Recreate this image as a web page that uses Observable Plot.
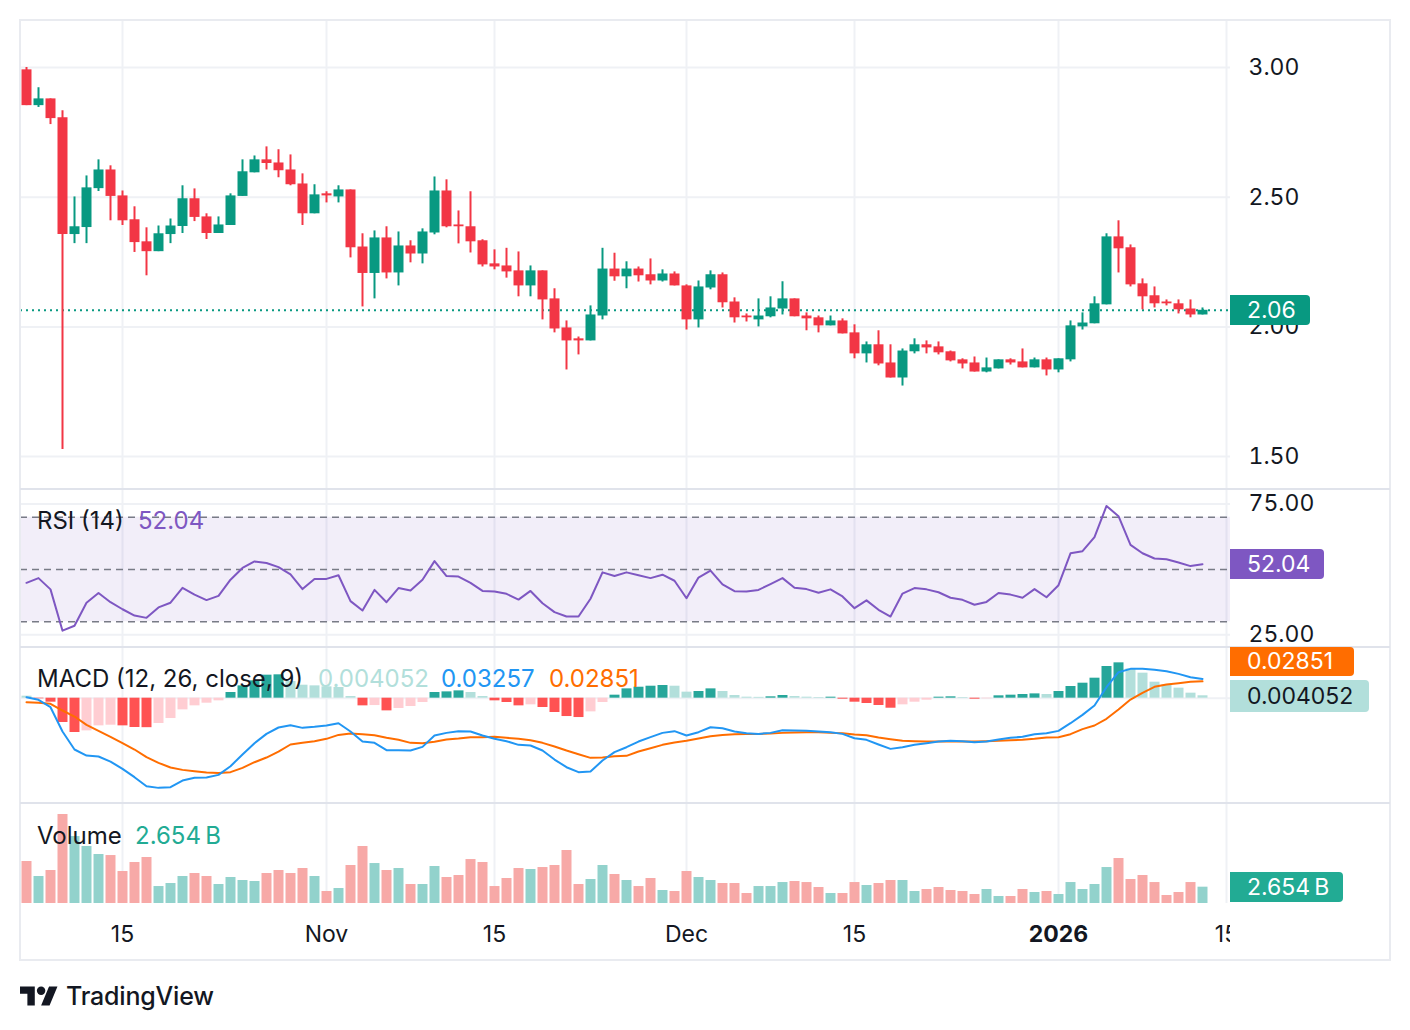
<!DOCTYPE html>
<html><head><meta charset="utf-8">
<script src="https://cdn.jsdelivr.net/npm/d3@7"></script>
<script src="https://cdn.jsdelivr.net/npm/@observablehq/plot@0.6"></script>
<style>
body{margin:0;background:#fff;font-family:Inter,"Noto Sans",sans-serif;color:#131722;}
#root{position:relative;width:1410px;height:1030px;overflow:hidden;background:#fff;}
#root svg{max-width:none !important;overflow:visible;}
.pane{position:absolute;left:0;}
.lbl{position:absolute;font-size:24px;line-height:1;white-space:nowrap;transform:translateY(-50%);}
.box{position:absolute;left:1230px;height:30px;border-radius:0 4px 4px 0;font-size:23px;line-height:30px;padding-left:17px;box-sizing:border-box;color:#fff;white-space:nowrap;}
.sep{position:absolute;left:20px;width:1370px;height:2px;background:#e0e3eb;}
</style></head><body><div id="root"></div>
<script>
const startDate = "2025-10-07";
const open  = [2.991,2.853,2.879,2.806,2.356,2.383,2.533,2.605,2.505,2.413,2.328,2.290,2.356,2.387,2.494,2.424,2.360,2.391,2.503,2.594,2.644,2.632,2.605,2.551,2.436,2.513,2.501,2.528,2.308,2.206,2.343,2.208,2.312,2.281,2.362,2.524,2.393,2.386,2.332,2.243,2.235,2.216,2.158,2.216,2.108,1.996,1.954,1.946,2.042,2.223,2.193,2.223,2.201,2.177,2.204,2.158,2.027,2.150,2.201,2.096,2.042,2.027,2.039,2.069,2.108,2.042,2.035,2.004,2.023,1.977,1.896,1.931,1.861,1.803,1.904,1.931,1.923,1.904,1.873,1.861,1.826,1.838,1.873,1.865,1.842,1.873,1.834,1.873,2.000,2.012,2.085,2.347,2.305,2.166,2.120,2.096,2.089,2.069,2.046];
const high  = [3.000,2.922,2.879,2.833,2.501,2.582,2.644,2.621,2.524,2.463,2.382,2.389,2.416,2.544,2.532,2.436,2.424,2.513,2.644,2.659,2.694,2.683,2.663,2.590,2.548,2.521,2.544,2.528,2.359,2.370,2.386,2.366,2.332,2.378,2.578,2.567,2.447,2.521,2.336,2.297,2.303,2.289,2.235,2.216,2.147,2.023,1.961,2.081,2.303,2.284,2.251,2.231,2.262,2.220,2.212,2.162,2.177,2.216,2.208,2.112,2.050,2.108,2.116,2.174,2.108,2.054,2.042,2.042,2.031,2.008,1.942,1.985,1.931,1.915,1.954,1.946,1.942,1.907,1.877,1.884,1.880,1.873,1.877,1.915,1.880,1.880,1.877,2.023,2.054,2.116,2.359,2.409,2.316,2.185,2.154,2.104,2.104,2.104,2.073];
const low   = [2.853,2.846,2.780,1.527,2.321,2.321,2.522,2.409,2.391,2.287,2.197,2.290,2.321,2.360,2.406,2.337,2.360,2.391,2.503,2.594,2.605,2.575,2.544,2.391,2.436,2.478,2.478,2.266,2.077,2.108,2.185,2.158,2.247,2.243,2.355,2.382,2.320,2.285,2.231,2.220,2.188,2.116,2.116,2.027,1.977,1.834,1.892,1.946,2.027,2.176,2.147,2.173,2.162,2.173,2.158,1.988,1.996,2.143,2.073,2.015,2.019,2.000,2.035,2.046,2.039,1.985,1.977,2.004,1.973,1.877,1.861,1.850,1.803,1.772,1.896,1.896,1.892,1.865,1.838,1.826,1.823,1.838,1.853,1.842,1.842,1.811,1.823,1.865,1.988,2.012,2.085,2.208,2.154,2.066,2.073,2.081,2.050,2.035,2.046];
const close = [2.853,2.879,2.803,2.356,2.386,2.536,2.605,2.503,2.409,2.325,2.290,2.359,2.389,2.494,2.422,2.360,2.393,2.505,2.598,2.644,2.630,2.602,2.548,2.436,2.509,2.505,2.528,2.305,2.206,2.343,2.208,2.312,2.281,2.366,2.524,2.386,2.386,2.328,2.239,2.231,2.212,2.158,2.216,2.104,1.992,1.946,1.946,2.046,2.223,2.193,2.223,2.197,2.177,2.204,2.158,2.027,2.154,2.201,2.093,2.035,2.035,2.042,2.073,2.108,2.039,2.031,2.004,2.023,1.973,1.896,1.931,1.857,1.803,1.907,1.931,1.919,1.900,1.869,1.857,1.826,1.842,1.873,1.861,1.842,1.873,1.834,1.877,2.004,2.015,2.089,2.347,2.301,2.162,2.116,2.089,2.089,2.066,2.046,2.064];
const volume = [6.83,4.39,5.37,14.47,10.89,9.27,7.97,7.80,5.20,6.67,7.48,2.76,3.25,4.39,4.88,4.39,3.09,4.23,3.74,3.58,4.88,5.37,4.88,5.69,4.39,1.95,2.44,6.18,9.27,6.50,5.37,5.69,3.09,3.09,6.02,4.23,4.55,7.15,6.67,2.76,4.07,5.69,5.53,5.85,6.18,8.62,3.09,3.90,6.18,4.72,3.74,2.76,4.07,2.11,1.95,5.20,4.23,3.74,3.25,3.25,1.63,2.76,2.76,3.41,3.58,3.41,2.60,1.63,1.63,3.41,2.93,3.25,3.74,3.74,1.95,2.28,2.60,2.11,1.95,1.46,2.28,1.14,1.14,2.28,1.79,1.95,1.46,3.41,2.28,3.09,5.85,7.32,3.90,4.55,3.41,1.30,1.79,3.41,2.654];
const rsi = [44.9,46.7,42.4,26.6,28.5,37.3,41.0,37.5,34.8,32.4,31.5,35.5,37.3,43.0,40.4,38.3,39.9,46.1,50.6,53.1,52.5,50.9,48.1,42.5,46.4,46.4,47.8,37.9,34.3,42.2,37.5,42.9,42.0,46.1,53.2,47.5,47.3,44.9,41.8,41.6,40.7,38.5,41.8,37.1,33.7,32.0,32.0,38.8,48.9,47.5,48.9,47.8,46.7,48.0,45.7,39.0,46.9,49.6,44.3,41.7,41.6,42.2,44.4,46.7,43.0,42.5,41.1,42.4,39.7,35.2,38.2,34.6,32.0,40.8,42.9,42.4,41.3,39.2,38.4,36.5,37.6,41.0,40.4,39.2,42.5,39.4,44.0,56.2,57.0,62.4,74.3,70.4,59.4,56.2,54.2,53.9,52.7,51.3,52.04];
const macd = [0.0017,-0.0028,-0.0153,-0.0565,-0.0870,-0.0972,-0.0989,-0.1074,-0.1198,-0.1339,-0.1492,-0.1520,-0.1509,-0.1396,-0.1350,-0.1345,-0.1300,-0.1153,-0.0955,-0.0763,-0.0605,-0.0497,-0.0458,-0.0503,-0.0486,-0.0463,-0.0424,-0.0565,-0.0735,-0.0757,-0.0881,-0.0881,-0.0887,-0.0825,-0.0633,-0.0588,-0.0559,-0.0565,-0.0633,-0.0689,-0.0729,-0.0791,-0.0802,-0.0887,-0.1040,-0.1170,-0.1254,-0.1243,-0.1057,-0.0915,-0.0831,-0.0735,-0.0661,-0.0588,-0.0559,-0.0633,-0.0576,-0.0492,-0.0509,-0.0565,-0.0593,-0.0605,-0.0588,-0.0542,-0.0548,-0.0554,-0.0565,-0.0576,-0.0605,-0.0678,-0.0706,-0.0785,-0.0859,-0.0831,-0.0791,-0.0763,-0.0735,-0.0723,-0.0729,-0.0746,-0.0735,-0.0701,-0.0672,-0.0655,-0.0610,-0.0593,-0.0554,-0.0424,-0.0283,-0.0124,0.0186,0.0441,0.0497,0.0497,0.0480,0.0458,0.0412,0.0356,0.03257];
const signal = [-0.0068,-0.0079,-0.0096,-0.0209,-0.0311,-0.0452,-0.0554,-0.0655,-0.0763,-0.0870,-0.1000,-0.1096,-0.1175,-0.1215,-0.1237,-0.1260,-0.1266,-0.1254,-0.1181,-0.1085,-0.1006,-0.0904,-0.0785,-0.0757,-0.0729,-0.0689,-0.0622,-0.0599,-0.0610,-0.0627,-0.0672,-0.0706,-0.0757,-0.0763,-0.0740,-0.0701,-0.0684,-0.0661,-0.0661,-0.0655,-0.0672,-0.0689,-0.0712,-0.0757,-0.0819,-0.0887,-0.0949,-0.1011,-0.1006,-0.0983,-0.0977,-0.0904,-0.0848,-0.0791,-0.0751,-0.0723,-0.0684,-0.0644,-0.0622,-0.0610,-0.0605,-0.0605,-0.0599,-0.0588,-0.0582,-0.0576,-0.0576,-0.0588,-0.0593,-0.0616,-0.0627,-0.0667,-0.0695,-0.0723,-0.0729,-0.0735,-0.0735,-0.0735,-0.0735,-0.0735,-0.0729,-0.0723,-0.0712,-0.0706,-0.0689,-0.0667,-0.0661,-0.0610,-0.0525,-0.0463,-0.0350,-0.0192,-0.0023,0.0090,0.0192,0.0232,0.0254,0.0277,0.02851];
const hist = [0.0034,-0.0011,-0.0068,-0.0412,-0.0582,-0.0554,-0.0469,-0.0458,-0.0469,-0.0497,-0.0500,-0.0429,-0.0345,-0.0198,-0.0130,-0.0085,-0.0045,0.0096,0.0209,0.0294,0.0390,0.0396,0.0283,0.0220,0.0209,0.0192,0.0181,0.0028,-0.0130,-0.0125,-0.0215,-0.0175,-0.0141,-0.0073,0.0096,0.0107,0.0124,0.0096,0.0028,-0.0045,-0.0073,-0.0130,-0.0113,-0.0158,-0.0243,-0.0311,-0.0328,-0.0232,-0.0073,0.0051,0.0158,0.0186,0.0203,0.0215,0.0203,0.0102,0.0113,0.0158,0.0113,0.0045,0.0017,0.0014,0.0023,0.0045,0.0028,0.0017,0.0011,0.0017,-0.0017,-0.0068,-0.0090,-0.0124,-0.0170,-0.0113,-0.0068,-0.0034,0.0017,0.0023,0.0011,-0.0017,-0.0011,0.0040,0.0051,0.0062,0.0073,0.0062,0.0113,0.0198,0.0254,0.0339,0.0537,0.0599,0.0497,0.0424,0.0271,0.0226,0.0170,0.0085,0.004052];
const histBefore = 0.006;
const priceTicks = [1.5, 2.0, 2.5, 3.0];
const rsiTicks = [25, 75];
const rsiLevels = [70, 50, 30];
const timeTicks = ["2025-10-15","2025-11-01","2025-11-15","2025-12-01","2025-12-15","2026-01-01","2026-01-15"];
const timeLabels = ["15","Nov","15","Dec","15","2026","15"];
const boldLabels = ["2026"];

const UP = "#089981", DOWN = "#F23645", GRID = "#eff1f5";
const day0 = new Date(startDate + "T00:00:00Z");
const data = close.map((c, i) => ({
  date: d3.utcDay.offset(day0, i), open: open[i], high: high[i], low: low[i], close: c,
  volume: volume[i], rsi: rsi[i], macd: macd[i], signal: signal[i], hist: hist[i],
  up: c >= open[i],
  histColor: hist[i] >= 0
    ? (hist[i] > (i ? hist[i-1] : histBefore) ? "#26A69A" : "#B2DFDB")
    : (hist[i] < (i ? hist[i-1] : histBefore) ? "#FF5252" : "#FFCDD2")
}));
const ups = data.filter(d => d.up), downs = data.filter(d => !d.up);
const last = data[data.length - 1];
const tickRows = timeTicks.map((t, i) => ({date: new Date(t + "T00:00:00Z"), label: timeLabels[i]}));
const tickDates = tickRows.map(d => d.date);
const xDomain = [d3.utcHour.offset(day0, -12), d3.utcHour.offset(new Date("2026-01-15T00:00:00Z"), 8)];

const common = {
  width: 1410, marginLeft: 20, marginRight: 180, marginTop: 0,
  x: {type: "utc", domain: xDomain, axis: null},
  style: {fontFamily: "Inter, 'Noto Sans', sans-serif", fontSize: "23px", color: "#131722", background: "transparent", maxWidth: "none", overflow: "visible"}
};
const fmt2 = d3.format(".2f");

const pricePlot = Plot.plot({
  ...common, height: 468, marginBottom: 0,
  y: {domain: [1.377, 3.1812], axis: null},
  marks: [
    Plot.ruleX(tickDates, {stroke: GRID, strokeWidth: 2}),
    Plot.ruleY(priceTicks, {stroke: GRID, strokeWidth: 2}),
    Plot.axisY(priceTicks, {anchor: "right", tickSize: 0, tickPadding: 18, tickFormat: fmt2, fontSize: 23, color: "#131722"}),
    Plot.ruleY([last.close], {stroke: UP, strokeWidth: 2, strokeDasharray: "2,4"}),
    Plot.ruleX(ups, {x: "date", y1: "low", y2: "high", stroke: UP, strokeWidth: 2}),
    Plot.ruleX(downs, {x: "date", y1: "low", y2: "high", stroke: DOWN, strokeWidth: 2}),
    Plot.ruleX(ups, {x: "date", y1: "open", y2: "close", stroke: UP, strokeWidth: 10}),
    Plot.ruleX(downs, {x: "date", y1: "open", y2: "close", stroke: DOWN, strokeWidth: 10})
  ]
});

const rsiPlot = Plot.plot({
  ...common, height: 156, marginBottom: 0,
  y: {domain: [20.55, 80.21], axis: null},
  marks: [
    Plot.ruleX(tickDates, {stroke: GRID, strokeWidth: 2}),
    Plot.ruleY(rsiTicks, {stroke: GRID, strokeWidth: 2}),
    Plot.rect([{lo: d3.min(rsiLevels), hi: d3.max(rsiLevels)}], {y1: "lo", y2: "hi", fill: "#7E57C2", fillOpacity: 0.1}),
    Plot.ruleY(rsiLevels, {stroke: "#787B86", strokeWidth: 1.5, strokeDasharray: "7,5"}),
    Plot.line(data, {x: "date", y: "rsi", stroke: "#7E57C2", strokeWidth: 2}),
    Plot.axisY(rsiTicks, {anchor: "right", tickSize: 0, tickPadding: 18, tickFormat: fmt2, fontSize: 23, color: "#131722"})
  ]
});

const macdPlot = Plot.plot({
  ...common, height: 154, marginBottom: 0,
  y: {domain: [-0.1768, 0.0842], axis: null},
  marks: [
    Plot.ruleX(tickDates, {stroke: GRID, strokeWidth: 2}),
    Plot.ruleY([0], {stroke: GRID, strokeWidth: 2}),
    Plot.ruleX(data, {x: "date", y1: 0, y2: "hist", stroke: "histColor", strokeWidth: 10}),
    Plot.line(data, {x: "date", y: "signal", stroke: "#FF6D00", strokeWidth: 2}),
    Plot.line(data, {x: "date", y: "macd", stroke: "#2196F3", strokeWidth: 2})
  ]
});

const volPlot = Plot.plot({
  ...common, height: 156, marginBottom: 57,
  y: {domain: [0, 16.1], axis: null},
  marks: [
    Plot.ruleX(tickDates, {stroke: GRID, strokeWidth: 2}),
    Plot.ruleX(ups, {x: "date", y1: 0, y2: "volume", stroke: "#92d2cc", strokeWidth: 10}),
    Plot.ruleX(downs, {x: "date", y1: 0, y2: "volume", stroke: "#f7a9a7", strokeWidth: 10}),
    Plot.text(tickRows.filter(d => !boldLabels.includes(d.label)), {x: "date", text: "label", frameAnchor: "bottom", dy: 31, lineAnchor: "middle", fontSize: 23, fill: "#131722"}),
    Plot.text(tickRows.filter(d => boldLabels.includes(d.label)), {x: "date", text: "label", frameAnchor: "bottom", dy: 31, lineAnchor: "middle", fontSize: 23, fontWeight: "bold", fill: "#131722"})
  ]
});

const root = document.getElementById("root");
function addPane(node, top, clipWidth) {
  const d = document.createElement("div");
  d.className = "pane"; d.style.top = top + "px";
  if (clipWidth) { d.style.width = clipWidth + "px"; d.style.height = "160px"; d.style.overflow = "hidden"; }
  d.appendChild(node); root.appendChild(d);
}
const T = {price: 20, rsi: 490, macd: 648, vol: 804};
addPane(pricePlot, T.price);
addPane(rsiPlot, T.rsi);
addPane(macdPlot, T.macd);
addPane(volPlot, T.vol, 1230);

function el(cls, html, css) {
  const d = document.createElement("div"); d.className = cls; d.innerHTML = html;
  Object.assign(d.style, css); root.appendChild(d); return d;
}
// frame and separators
el("", "", {position: "absolute", left: "19px", top: "19px", width: "1372px", height: "942px", border: "2px solid #e9ebf0", boxSizing: "border-box", pointerEvents: "none"});
[488, 646, 802].forEach(y => el("sep", "", {top: y + "px"}));

// legends
el("lbl", "RSI (14)", {left: "37px", top: "521px"});
el("lbl", rsi[rsi.length-1].toFixed(2), {left: "138px", top: "521px", color: "#7E57C2"});
el("lbl", "MACD (12, 26, close, 9)", {left: "37px", top: "679px"});
el("lbl", String(last.hist), {left: "318px", top: "679px", color: "#B2DFDB"});
el("lbl", String(last.macd), {left: "441px", top: "679px", color: "#2196F3"});
el("lbl", String(last.signal), {left: "549px", top: "679px", color: "#FF6D00"});
el("lbl", "Volume", {left: "37px", top: "836px"});
el("lbl", last.volume.toFixed(3) + "\u2009B", {left: "135px", top: "836px", color: "#22AB94"});

// right-side value boxes placed via the plots' scales
const yP = T.price + pricePlot.scale("y").apply(last.close);
el("box", fmt2(last.close).slice(0, 4), {top: (yP - 15) + "px", width: "80px", background: UP});
const yR = T.rsi + rsiPlot.scale("y").apply(last.rsi);
el("box", last.rsi.toFixed(2), {top: (yR - 15) + "px", width: "94px", background: "#7E57C2"});
const yH = T.macd + macdPlot.scale("y").apply(last.hist);
const yS = Math.min(T.macd + macdPlot.scale("y").apply(last.signal), yH - 15 - 4 - 14);
el("box", String(last.hist), {top: (yH - 15) + "px", width: "139px", height: "32px", lineHeight: "32px", background: "#B2DFDB", color: "#131722"});
el("box", String(last.signal), {top: (yS - 15) + "px", width: "124px", height: "29px", lineHeight: "29px", background: "#FF6D00"});
const yV = T.vol + volPlot.scale("y").apply(last.volume);
el("box", last.volume.toFixed(3) + "\u2009B", {top: (yV - 15) + "px", width: "113px", background: "#22AB94"});

// TradingView logo + wordmark
el("", '<svg width="38" height="30" viewBox="0 0 36 28"><path d="M14 22H7V11H0V4h14v18zM28 22h-8l7.5-18h8L28 22z" fill="#131722"/><circle cx="20" cy="8" r="4" fill="#131722"/></svg>', {position: "absolute", left: "20px", top: "982px"});
el("", "TradingView", {position: "absolute", left: "66px", top: "981px", fontSize: "25px", fontWeight: "500", color: "#131722", lineHeight: "30px", letterSpacing: "-0.2px"});
</script></body></html>
